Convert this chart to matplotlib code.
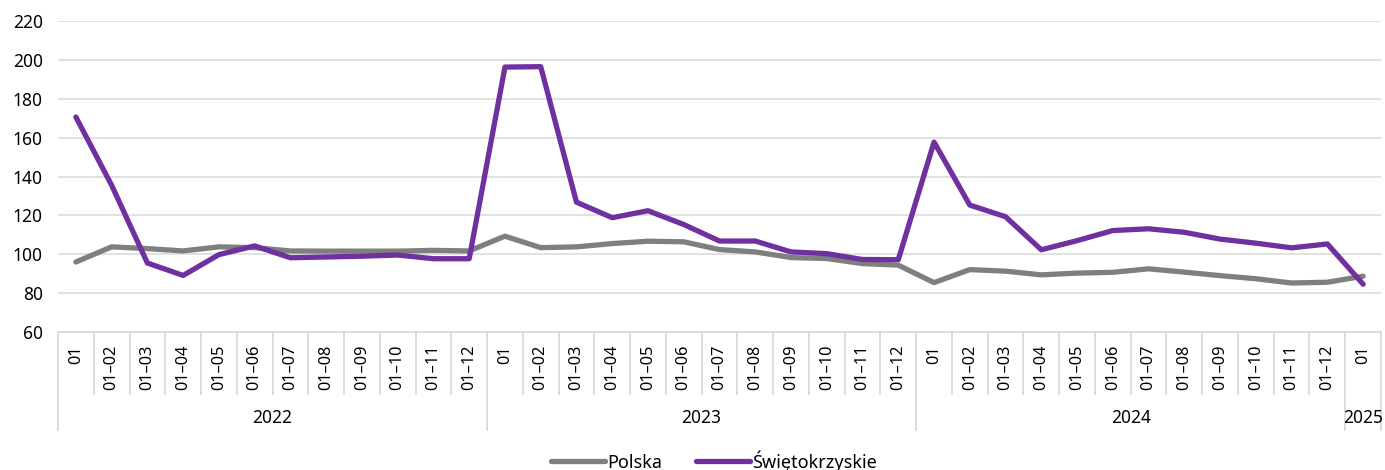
import matplotlib
matplotlib.use("Agg")
import matplotlib.pyplot as plt
import matplotlib.transforms as mtransforms

plt.rcParams['font.family'] = ['Noto Sans', 'DejaVu Sans']

years = ["2022", "2023", "2024", "2025"]
months_per_year = [12, 12, 12, 1]
month_labels = ["01", "01–02", "01–03", "01–04", "01–05", "01–06",
                "01–07", "01–08", "01–09", "01–10", "01–11", "01–12"]

polska = [96, 103.8, 102.9, 101.7, 103.8, 103.4, 101.7, 101.6, 101.6, 101.6, 102, 101.7,
          109.3, 103.4, 103.8, 105.5, 106.7, 106.4, 102.4, 101.2, 98.3, 97.8, 95.2, 94.4,
          85.4, 92.1, 91.3, 89.4, 90.3, 90.7, 92.5, 90.8, 89, 87.4, 85.2, 85.6,
          88.7]
swietokrzyskie = [170.6, 135.5, 95.5, 89.1, 99.8, 104.3, 98.2, 98.6, 99, 99.6, 97.7, 97.7,
                  196.3, 196.5, 126.8, 118.8, 122.4, 115.3, 106.8, 106.8, 101.2, 100.3, 97.3, 97.2,
                  157.7, 125.3, 119.3, 102.3, 107, 112.2, 113.1, 111.3, 107.8, 105.7, 103.3, 105.3,
                  84.6]

cat_labels = []
for n in months_per_year:
    cat_labels += month_labels[:n]
x = list(range(len(cat_labels)))

W, H = 1385, 470
fig = plt.figure(figsize=(W / 100, H / 100), dpi=100)
L, R, T, B = 58, 1381, 21, 332
ax = fig.add_axes([L / W, (H - B) / H, (R - L) / W, (B - T) / H])

grid_c = '#D9D9D9'
for yv in range(80, 221, 20):
    ax.axhline(yv, color=grid_c, lw=1.1, zorder=0)

ax.plot(x, polska, color='#7F7F7F', lw=3.8, solid_joinstyle='round', solid_capstyle='round', label='Polska', zorder=3)
ax.plot(x, swietokrzyskie, color='#7030A0', lw=3.8, solid_joinstyle='round', solid_capstyle='round', label='Świętokrzyskie', zorder=4)

ax.set_xlim(-0.5, len(x) - 0.5)
ax.set_ylim(60, 220)
ax.set_yticks(range(60, 221, 20))
ax.tick_params(axis='y', length=0, labelsize=12.5, pad=11, labelcolor='#000000')
ax.set_xticks([])
for s in ['top', 'right', 'left']:
    ax.spines[s].set_visible(False)
ax.spines['bottom'].set_color(grid_c)
ax.spines['bottom'].set_linewidth(1.3)

trans = mtransforms.blended_transform_factory(ax.transData, ax.transAxes)
ah = B - T
y_month_end = -(394 - B) / ah
y_year_end = -(430 - B) / ah
y_month_lab = -(345 - B) / ah
y_year_lab = -(418 - B) / ah

year_bounds = [0]
for n in months_per_year:
    year_bounds.append(year_bounds[-1] + n)
for i in range(len(x) + 1):
    bx = i - 0.5
    yend = y_year_end if i in year_bounds else y_month_end
    ax.plot([bx, bx], [0, yend], color=grid_c, lw=1.3, transform=trans, clip_on=False)
for i, lab in enumerate(cat_labels):
    ax.text(i, y_month_lab, lab, rotation=90, ha='center', va='top', fontsize=11.8,
            transform=trans, clip_on=False)
for k, yr in enumerate(years):
    cx = (year_bounds[k] + year_bounds[k + 1] - 1) / 2
    ax.text(cx, y_year_lab, yr, ha='center', va='center', fontsize=12.5, transform=trans, clip_on=False)

fig.legend(loc='center', bbox_to_anchor=(714 / W, (H - 461) / H), ncol=2, frameon=False,
           fontsize=13, handlelength=3.0, handletextpad=0.1, columnspacing=1.9)

fig.savefig('out.png', dpi=100, facecolor='white')
